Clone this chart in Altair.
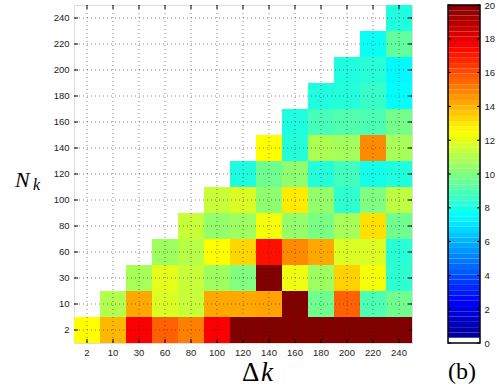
import altair as alt
import pandas as pd

# Category labels (Delta k on x, N_k on y)
X_LABELS = ["2", "10", "30", "60", "80", "100", "120", "140", "160", "180", "200", "220", "240"]
Y_LABELS = ["2", "10", "30", "60", "80", "100", "120", "140", "160", "180", "200", "220", "240"]

# Row i (N_k = Y_LABELS[i]) holds values for Delta k = X_LABELS[i:] (upper triangle is empty)
ROW_2 = [12.5, 13.9, 17.6, 15.6, 15.0, 17.6, 20, 20, 20, 20, 20, 20, 20]
ROW_10 = [11.0, 14.2, 11.8, 11.4, 14.2, 14.2, 14.3, 20, 9.7, 15.6, 9.0, 9.7]
ROW_30 = [10.8, 12.0, 11.4, 10.6, 10.0, 20, 12.2, 10.6, 13.4, 12.3, 8.4]
ROW_60 = [10.6, 11.1, 12.5, 13.3, 17.2, 14.8, 14.2, 11.8, 11.8, 8.3]
ROW_80 = [11.4, 10.4, 10.6, 12.3, 10.4, 9.9, 10.8, 13.1, 9.7]
ROW_100 = [11.4, 11.8, 10.3, 12.9, 10.4, 8.4, 10.0, 11.2]
ROW_120 = [8.1, 9.7, 10.3, 8.2, 8.8, 7.9, 8.1]
ROW_140 = [12.5, 8.2, 10.9, 10.7, 14.8, 10.8]
ROW_160 = [8.1, 8.9, 9.1, 9.0, 9.8]
ROW_180 = [8.1, 8.2, 8.6, 7.5]
ROW_200 = [8.1, 8.3, 7.4]
ROW_220 = [7.7, 9.4]
ROW_240 = [8.1]
ROWS = [ROW_2, ROW_10, ROW_30, ROW_60, ROW_80, ROW_100, ROW_120,
        ROW_140, ROW_160, ROW_180, ROW_200, ROW_220, ROW_240]

# Colour bar: ticks and jet-like colour stops
CB_TICKS = [0, 2, 4, 6, 8, 10, 12, 14, 16, 18, 20]
C_DOMAIN = [0, 0.3125, 0.3126, 2.5, 7.5, 12.5, 17.5, 20]
C_RANGE = ["#ffffff", "#ffffff", "#000090", "#0000ff", "#00ffff", "#ffff00", "#ff0000", "#800000"]

records = []
for i, row in enumerate(ROWS):
    for k, v in enumerate(row):
        records.append({"dk": X_LABELS[i + k], "nk": Y_LABELS[i], "v": v})
cells = pd.DataFrame(records)
xcats = pd.DataFrame({"c": X_LABELS})
ycats = pd.DataFrame({"c": Y_LABELS})
one = pd.DataFrame({"a": [0]})
cbt = pd.DataFrame({"t": CB_TICKS})

W = 338
H = 338

xs = alt.Scale(domain=X_LABELS, paddingInner=0, paddingOuter=0)
ys = alt.Scale(domain=Y_LABELS[::-1], paddingInner=0, paddingOuter=0)
cs = alt.Scale(domain=C_DOMAIN, range=C_RANGE, interpolate="rgb", clamp=True)

AX = alt.Axis(title=None, ticks=False, domain=False, grid=False, labelAngle=0, labelPadding=4,
              labelFont="Liberation Sans", labelFontSize=9.5, labelColor="#222")
AY = alt.Axis(title=None, ticks=False, domain=False, grid=False, labelPadding=5,
              labelFont="Liberation Sans", labelFontSize=9.5, labelColor="#222")

heat = alt.Chart(cells).mark_rect().encode(
    x=alt.X("dk:N", scale=xs, axis=AX),
    y=alt.Y("nk:N", scale=ys, axis=AY),
    color=alt.Color("v:Q", scale=cs, legend=None),
)

grid_style = dict(strokeDash=[1, 3], color="#333", strokeWidth=0.8, opacity=0.75)
vgrid = alt.Chart(xcats).mark_rule(**grid_style).encode(
    x=alt.X("c:N", scale=xs, bandPosition=0.5, axis=AX))
hgrid = alt.Chart(ycats).mark_rule(**grid_style).encode(
    y=alt.Y("c:N", scale=ys, bandPosition=0.5, axis=AY))

tick_style = dict(color="black", strokeWidth=1)
xt_b = alt.Chart(xcats).mark_rule(**tick_style).encode(
    x=alt.X("c:N", scale=xs, bandPosition=0.5, axis=AX), y=alt.value(H), y2=alt.value(H - 4))
xt_t = alt.Chart(xcats).mark_rule(**tick_style).encode(
    x=alt.X("c:N", scale=xs, bandPosition=0.5, axis=AX), y=alt.value(0), y2=alt.value(4))
yt_l = alt.Chart(ycats).mark_rule(**tick_style).encode(
    y=alt.Y("c:N", scale=ys, bandPosition=0.5, axis=AY), x=alt.value(0), x2=alt.value(4))
yt_r = alt.Chart(ycats).mark_rule(**tick_style).encode(
    y=alt.Y("c:N", scale=ys, bandPosition=0.5, axis=AY), x=alt.value(W), x2=alt.value(W - 4))

serif = "Liberation Serif"
t_delta = alt.Chart(one).mark_text(text="Δ", font=serif, fontSize=27, align="left", baseline="alphabetic",
                                   color="black").encode(x=alt.value(168), y=alt.value(376))
t_k = alt.Chart(one).mark_text(text="k", font=serif, fontSize=27, fontStyle="italic", align="left",
                               baseline="alphabetic", color="black").encode(x=alt.value(187), y=alt.value(376))
t_N = alt.Chart(one).mark_text(text="N", font=serif, fontSize=22, fontStyle="italic", align="left",
                               baseline="alphabetic", color="black").encode(x=alt.value(-59), y=alt.value(182))
t_sub = alt.Chart(one).mark_text(text="k", font=serif, fontSize=16, fontStyle="italic", align="left",
                                 baseline="alphabetic", color="black").encode(x=alt.value(-41), y=alt.value(185))
t_b = alt.Chart(one).mark_text(text="(b)", font=serif, fontSize=24, align="left", baseline="alphabetic",
                               color="black").encode(x=alt.value(374), y=alt.value(374))

group1 = alt.layer(heat, vgrid, hgrid, xt_b, xt_t, yt_l, yt_r, t_delta, t_k, t_N, t_sub, t_b)

cb_scale = alt.Scale(domain=[0, 20], nice=False, zero=False)
cb_axis = alt.Axis(orient="right", offset=68, values=CB_TICKS, ticks=False, domain=False, grid=False,
                   labelPadding=4, title=None, labelFont="Liberation Sans", labelFontSize=9.5,
                   labelColor="#222")
cbar = alt.Chart(alt.sequence(0, 20, 0.3125, as_="lo")).transform_calculate(
    hi="datum.lo + 0.3125", mid="datum.lo + 0.15625"
).mark_rect().encode(
    y=alt.Y("lo:Q", scale=cb_scale, axis=cb_axis),
    y2="hi:Q",
    x=alt.value(374), x2=alt.value(406),
    color=alt.Color("mid:Q", scale=cs, legend=None),
)
cb_tl = alt.Chart(cbt).mark_rule(color="black", strokeWidth=1).encode(
    y=alt.Y("t:Q", scale=cb_scale, axis=cb_axis), x=alt.value(374), x2=alt.value(377))
cb_tr = alt.Chart(cbt).mark_rule(color="black", strokeWidth=1).encode(
    y=alt.Y("t:Q", scale=cb_scale, axis=cb_axis), x=alt.value(406), x2=alt.value(403))
cb_frame = alt.Chart(one).mark_rect(filled=False, stroke="black", strokeWidth=1.5).encode(
    x=alt.value(374), x2=alt.value(406), y=alt.value(0), y2=alt.value(H))

group2 = alt.layer(cbar, cb_tl, cb_tr, cb_frame)

chart = alt.layer(group1, group2).resolve_scale(y="independent").properties(
    width=W, height=H,
    padding={"left": 74, "top": 5, "right": 91, "bottom": 48},
    autosize="none",
).configure_view(stroke="black", strokeWidth=1.5).configure(background="white")

chart.save("out.html", embed_options={"renderer": "svg", "actions": False})
